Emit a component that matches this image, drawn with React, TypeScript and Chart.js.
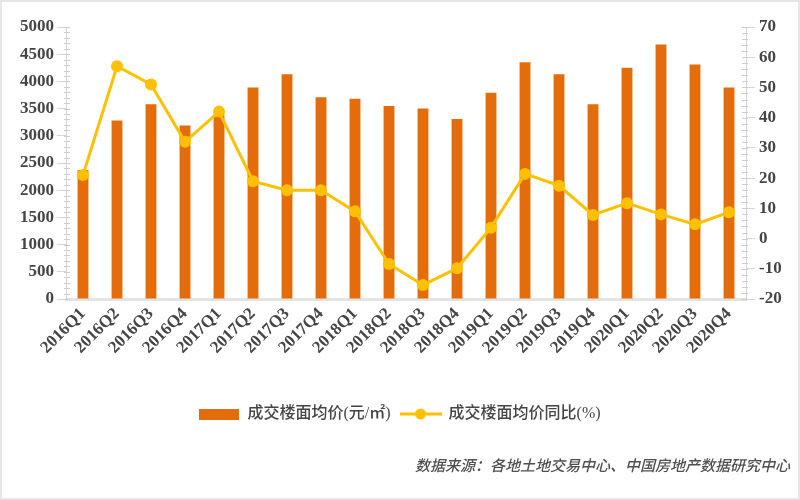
import React, { useEffect, useRef } from 'react';
import { Chart, registerables } from 'chart.js';

Chart.register(...registerables);

const categories = [
  '2016Q1', '2016Q2', '2016Q3', '2016Q4',
  '2017Q1', '2017Q2', '2017Q3', '2017Q4',
  '2018Q1', '2018Q2', '2018Q3', '2018Q4',
  '2019Q1', '2019Q2', '2019Q3', '2019Q4',
  '2020Q1', '2020Q2', '2020Q3', '2020Q4',
];
const avgPrice = [2370, 3280, 3580, 3190, 3380, 3890, 4130, 3710, 3680, 3550, 3500, 3310, 3790, 4350, 4130, 3580, 4250, 4680, 4310, 3890];
const yoyChange = [21, 57, 51, 32, 42, 19, 16, 16, 9, -8.4, -15.4, -9.8, 3.6, 21.4, 17.5, 7.8, 11.7, 8, 4.7, 8.7];
const leftTickValues = [0, 500, 1000, 1500, 2000, 2500, 3000, 3500, 4000, 4500, 5000];
const rightTickValues = [-20, -10, 0, 10, 20, 30, 40, 50, 60, 70];
const seriesNames = ['成交楼面均价(元/㎡)', '成交楼面均价同比(%)'];
const sourceNote = '数据来源：各地土地交易中心、中国房地产数据研究中心';

const BAR_COLOR = '#E46C0A';
const LINE_COLOR = '#FFC000';
const TEXT_COLOR = '#454545';
const AXIS_COLOR = '#d6d6d6';
const SERIF = "'Liberation Serif', 'Times New Roman', 'Noto Sans CJK SC', serif";

function makeBarIcon(): HTMLCanvasElement {
  const c = document.createElement('canvas');
  c.width = 40; c.height = 11;
  const g = c.getContext('2d')!;
  g.fillStyle = BAR_COLOR;
  g.fillRect(0, 0, 40, 11);
  return c;
}

function makeLineIcon(): HTMLCanvasElement {
  const c = document.createElement('canvas');
  c.width = 42; c.height = 12;
  const g = c.getContext('2d')!;
  g.strokeStyle = LINE_COLOR;
  g.lineWidth = 3;
  g.beginPath(); g.moveTo(0, 6); g.lineTo(42, 6); g.stroke();
  g.fillStyle = LINE_COLOR;
  g.beginPath(); g.arc(21, 6, 5.5, 0, Math.PI * 2); g.fill();
  return c;
}

const minorTicksPlugin = {
  id: 'minorTicks',
  afterDraw(chart: any) {
    const ctx = chart.ctx;
    const defs = [
      { id: 'y', step: (leftTickValues[1] - leftTickValues[0]) / 5, left: true },
      { id: 'y1', step: (rightTickValues[1] - rightTickValues[0]) / 5, left: false },
    ];
    ctx.save();
    ctx.strokeStyle = '#cccccc';
    ctx.lineWidth = 1;
    for (const d of defs) {
      const s = chart.scales[d.id];
      const x = d.left ? s.right : s.left;
      const n = Math.round((s.max - s.min) / d.step);
      for (let i = 0; i <= n; i++) {
        const v = s.min + i * d.step;
        const y = Math.round(s.getPixelForValue(v)) + 0.5;
        ctx.beginPath();
        if (d.left) { ctx.moveTo(x - 2, y); ctx.lineTo(x + 4, y); }
        else { ctx.moveTo(x - 4, y); ctx.lineTo(x + 2, y); }
        ctx.stroke();
      }
    }
    ctx.restore();
  },
};

const sourcePlugin = {
  id: 'sourceNote',
  afterDraw(chart: any) {
    const ctx = chart.ctx;
    ctx.save();
    ctx.font = "italic 500 15px 'Noto Sans CJK SC', " + SERIF;
    ctx.fillStyle = '#505050';
    ctx.textAlign = 'right';
    ctx.textBaseline = 'middle';
    ctx.fillText(sourceNote, chart.width - 8, chart.height - 33);
    ctx.restore();
  },
};

export default function App() {
  const ref = useRef<HTMLCanvasElement | null>(null);

  useEffect(() => {
    document.body.style.margin = '0';
    const canvas = ref.current!;
    const barIcon = makeBarIcon();
    const lineIcon = makeLineIcon();
    const tickFont = { family: SERIF, size: 17, weight: 'bold' as const };

    const chart = new Chart(canvas, {
      type: 'bar',
      data: {
        labels: categories,
        datasets: [
          {
            type: 'bar',
            label: seriesNames[0],
            data: avgPrice,
            backgroundColor: BAR_COLOR,
            borderWidth: 0,
            yAxisID: 'y',
            categoryPercentage: 1,
            barPercentage: 0.32,
            order: 2,
          },
          {
            type: 'line',
            label: seriesNames[1],
            data: yoyChange,
            borderColor: LINE_COLOR,
            backgroundColor: LINE_COLOR,
            borderWidth: 3,
            pointRadius: 6,
            pointBorderWidth: 0,
            pointBackgroundColor: LINE_COLOR,
            tension: 0,
            yAxisID: 'y1',
            order: 1,
          } as any,
        ],
      },
      options: {
        responsive: false,
        animation: false,
        events: [],
        layout: { padding: { top: 25, bottom: 66, left: 0, right: 0 } },
        plugins: {
          tooltip: { enabled: false },
          legend: {
            position: 'bottom',
            labels: {
              usePointStyle: true,
              pointStyleWidth: 40,
              padding: 10,
              color: TEXT_COLOR,
              font: { family: SERIF, size: 16, weight: '500' },
              generateLabels: (ch: any) =>
                ch.data.datasets.map((ds: any, i: number) => ({
                  text: ds.label,
                  pointStyle: i === 0 ? barIcon : lineIcon,
                  datasetIndex: i,
                  hidden: false,
                  fontColor: TEXT_COLOR,
                  lineWidth: 0,
                  strokeStyle: 'transparent',
                  fillStyle: 'transparent',
                })),
            },
          },
        },
        scales: {
          x: {
            offset: true,
            grid: { display: true, drawOnChartArea: false, drawTicks: false },
            border: { display: true, color: '#e3e3e3', width: 3 },
            ticks: {
              autoSkip: false,
              minRotation: 45,
              maxRotation: 45,
              padding: 5,
              color: TEXT_COLOR,
              font: tickFont,
            },
            afterFit: (s: any) => { s.height = 97; },
          },
          y: {
            position: 'left',
            min: leftTickValues[0],
            max: leftTickValues[leftTickValues.length - 1],
            afterBuildTicks: (s: any) => { s.ticks = leftTickValues.map((v) => ({ value: v })); },
            grid: { drawOnChartArea: false, drawTicks: true, tickLength: 9, color: AXIS_COLOR },
            border: { display: true, color: AXIS_COLOR, width: 1 },
            ticks: {
              padding: 3,
              color: TEXT_COLOR,
              font: tickFont,
              callback: (v: any) => String(v),
            },
            afterFit: (s: any) => { s.width = 64; },
          },
          y1: {
            position: 'right',
            min: rightTickValues[0],
            max: rightTickValues[rightTickValues.length - 1],
            afterBuildTicks: (s: any) => { s.ticks = rightTickValues.map((v) => ({ value: v })); },
            grid: { drawOnChartArea: false, drawTicks: true, tickLength: 9, color: AXIS_COLOR },
            border: { display: true, color: AXIS_COLOR, width: 1 },
            ticks: {
              padding: 4,
              color: TEXT_COLOR,
              font: tickFont,
              callback: (v: any) => String(v),
            },
            afterFit: (s: any) => { s.width = 52; },
          },
        },
      },
      plugins: [minorTicksPlugin, sourcePlugin],
    } as any);

    return () => chart.destroy();
  }, []);

  return (
    <div
      style={{
        width: 800,
        height: 500,
        boxSizing: 'border-box',
        border: '2px solid #e6e6e6',
        background: '#ffffff',
      }}
    >
      <canvas ref={ref} width={796} height={496} style={{ display: 'block', width: 796, height: 496 }} />
    </div>
  );
}
